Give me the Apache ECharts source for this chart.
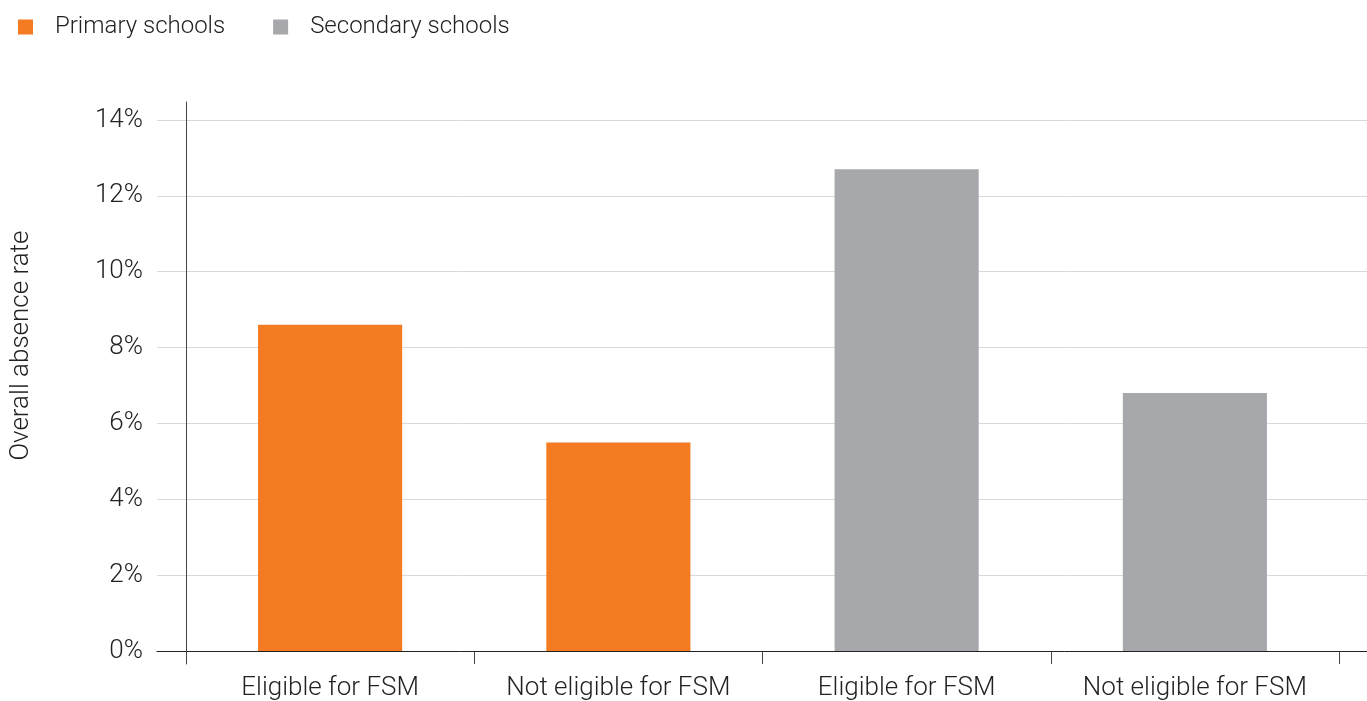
<!DOCTYPE html>
<html>
<head>
<meta charset="utf-8">
<script src="https://cdn.jsdelivr.net/npm/echarts@6/dist/echarts.min.js"></script>
<style>
html,body{margin:0;padding:0;background:#fff;}
#chart{width:1367px;height:701px;}
</style>
</head>
<body>
<div id="chart"></div>
<script>
const categories = ['Eligible for FSM', 'Not eligible for FSM', 'Eligible for FSM', 'Not eligible for FSM'];
const seriesNames = ['Primary schools', 'Secondary schools'];
const primaryValues = [8.6, 5.5, null, null];
const secondaryValues = [null, null, 12.7, 6.8];
const yTicks = [0, 2, 4, 6, 8, 10, 12, 14];

const FONT = 'Roboto, "Noto Sans", sans-serif';
const FW = 300;
const TXT = '#222';
const chart = echarts.init(document.getElementById('chart'));
chart.setOption({
  animation: false,
  backgroundColor: '#fff',
  textStyle: { fontFamily: FONT, fontWeight: FW },
  legend: {
    left: 18, top: 15, padding: 0,
    itemWidth: 15, itemHeight: 15,
    itemGap: 48,
    icon: 'rect',
    data: seriesNames,
    textStyle: { fontSize: 24, color: TXT, fontFamily: FONT, fontWeight: FW, padding: [0, 0, 0, 17] }
  },
  grid: [
    { left: 157, right: 0, top: 120, bottom: 50, outerBoundsMode: 'none' },
    { left: 186, right: 28, top: 120, bottom: 50, outerBoundsMode: 'none' },
    { left: 186, right: 28, top: 102, bottom: 37, outerBoundsMode: 'none' }
  ],
  xAxis: [
    { gridIndex: 0, type: 'value', min: 0, max: 1, show: true,
      axisLine: { show: true, onZero: false, lineStyle: { color: '#222', width: 1 } },
      axisTick: { show: false }, axisLabel: { show: false }, splitLine: { show: false } },
    { gridIndex: 1, type: 'category', data: categories, boundaryGap: true,
      axisLine: { show: false },
      axisTick: { show: true, interval: 0, length: 13, alignWithLabel: false, lineStyle: { color: '#444' } },
      axisLabel: { interval: 0, hideOverlap: false, fontSize: 26, color: TXT, margin: 24, fontFamily: FONT, fontWeight: FW },
      splitLine: { show: false } },
    { gridIndex: 2, type: 'value', show: false, min: 0, max: 1 }
  ],
  yAxis: [
    { gridIndex: 0, type: 'value', min: yTicks[0], max: yTicks[yTicks.length - 1], interval: 2,
      name: 'Overall absence rate', nameLocation: 'middle', nameGap: 123, nameRotate: 90,
      nameTextStyle: { fontSize: 26, color: TXT, fontFamily: FONT, fontWeight: FW, padding: [0, 0, 0, 80] },
      axisLine: { show: false }, axisTick: { show: false },
      axisLabel: { fontSize: 26, color: TXT, margin: 14, formatter: v => v + '%', fontFamily: FONT, fontWeight: FW },
      splitLine: { show: true, lineStyle: { color: '#d9d9d9', width: 1 } } },
    { gridIndex: 1, type: 'value', min: yTicks[0], max: yTicks[yTicks.length - 1], show: false },
    { gridIndex: 2, type: 'value', min: 0, max: 1, show: true,
      axisLine: { show: true, lineStyle: { color: '#444', width: 1 } },
      axisTick: { show: false }, axisLabel: { show: false }, splitLine: { show: false } }
  ],
  series: [
    { name: seriesNames[0], type: 'bar', xAxisIndex: 1, yAxisIndex: 1, stack: 'all',
      barWidth: '50%', data: primaryValues, itemStyle: { color: '#F47B22' } },
    { name: seriesNames[1], type: 'bar', xAxisIndex: 1, yAxisIndex: 1, stack: 'all',
      barWidth: '50%', data: secondaryValues, itemStyle: { color: '#A7A8AC' } }
  ]
});
</script>
</body>
</html>
